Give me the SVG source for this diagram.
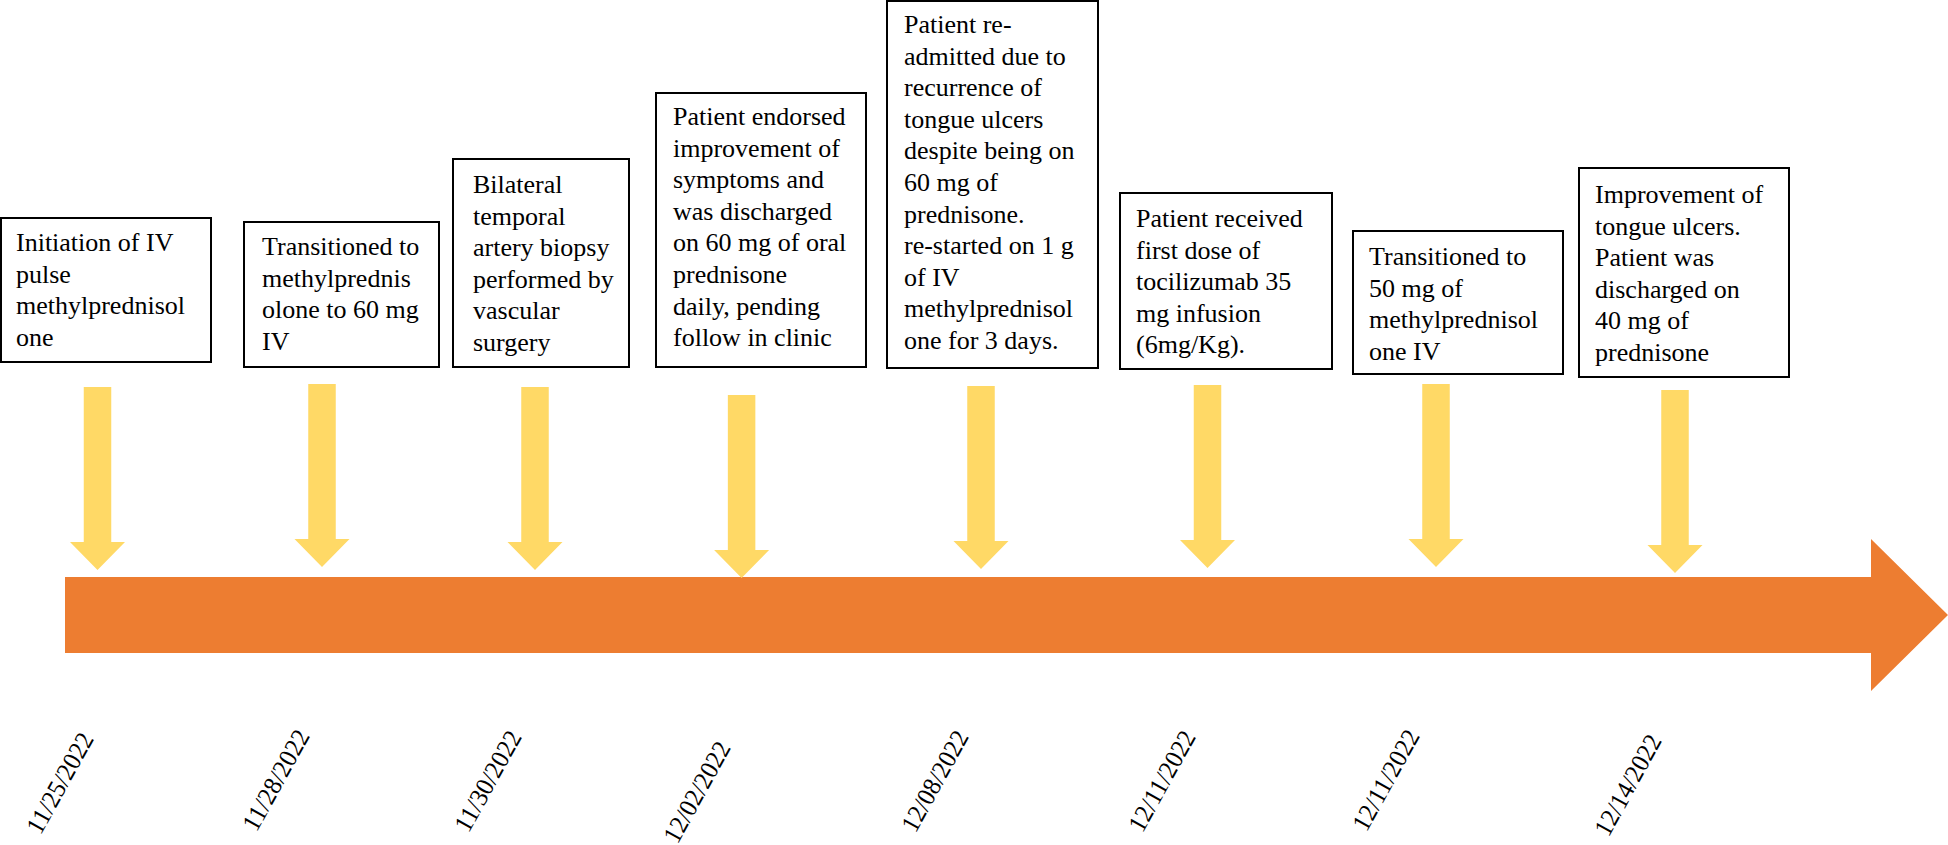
<svg xmlns="http://www.w3.org/2000/svg" xmlns:xlink="http://www.w3.org/1999/xlink" width="1948" height="845" viewBox="0 0 1948 845">
<style>
.box{fill:#fff;stroke:#000;stroke-width:2}
.t{font-family:"Liberation Serif","Times New Roman",serif;font-size:26px;fill:#000}
.d{font-family:"Liberation Serif","Times New Roman",serif;font-size:26px;fill:#000;text-anchor:middle}
.ya{fill:#FFD966}
</style>
<defs>
<path id="ya" d="M-13.75,0 H13.75 V155 H27.5 L0,183 L-27.5,155 H-13.75 Z"/>
</defs>
<rect width="1948" height="845" fill="#fff"/>
<g id="timeline">
<polygon points="65,577 1871,577 1871,539 1948,615 1871,691 1871,653 65,653" fill="#ED7D31"/>
</g>
<g id="connectors" class="ya">
<use xlink:href="#ya" x="97.5" y="387"/>
<use xlink:href="#ya" x="322" y="384"/>
<use xlink:href="#ya" x="535" y="387"/>
<use xlink:href="#ya" x="741.6" y="395"/>
<use xlink:href="#ya" x="981" y="386"/>
<use xlink:href="#ya" x="1207.5" y="385"/>
<use xlink:href="#ya" x="1436" y="384"/>
<use xlink:href="#ya" x="1675" y="390"/>
</g>
<g id="n1">
<rect class="box" x="1" y="218" width="210" height="144"/>
<text class="t" x="16" y="251"><tspan x="16">Initiation of IV</tspan><tspan x="16" dy="31.6">pulse</tspan><tspan x="16" dy="31.6">methylprednisol</tspan><tspan x="16" dy="31.6">one</tspan></text>
</g>
<g id="n2">
<rect class="box" x="244" y="222" width="195" height="145"/>
<text class="t" x="262" y="255"><tspan x="262">Transitioned to</tspan><tspan x="262" dy="31.6">methylprednis</tspan><tspan x="262" dy="31.6">olone to 60 mg</tspan><tspan x="262" dy="31.6">IV</tspan></text>
</g>
<g id="n3">
<rect class="box" x="453" y="159" width="176" height="208"/>
<text class="t" x="473" y="193"><tspan x="473">Bilateral</tspan><tspan x="473" dy="31.6">temporal</tspan><tspan x="473" dy="31.6">artery biopsy</tspan><tspan x="473" dy="31.6">performed by</tspan><tspan x="473" dy="31.6">vascular</tspan><tspan x="473" dy="31.6">surgery</tspan></text>
</g>
<g id="n4">
<rect class="box" x="656" y="93" width="210" height="274"/>
<text class="t" x="673" y="125"><tspan x="673">Patient endorsed</tspan><tspan x="673" dy="31.6">improvement of</tspan><tspan x="673" dy="31.6">symptoms and</tspan><tspan x="673" dy="31.6">was discharged</tspan><tspan x="673" dy="31.6">on 60 mg of oral</tspan><tspan x="673" dy="31.6">prednisone</tspan><tspan x="673" dy="31.6">daily, pending</tspan><tspan x="673" dy="31.6">follow in clinic</tspan></text>
</g>
<g id="n5">
<rect class="box" x="887" y="1" width="211" height="367"/>
<text class="t" x="904" y="33"><tspan x="904">Patient re-</tspan><tspan x="904" dy="31.6">admitted due to</tspan><tspan x="904" dy="31.6">recurrence of</tspan><tspan x="904" dy="31.6">tongue ulcers</tspan><tspan x="904" dy="31.6">despite being on</tspan><tspan x="904" dy="31.6">60 mg of</tspan><tspan x="904" dy="31.6">prednisone.</tspan><tspan x="904" dy="31.6">re-started on 1 g</tspan><tspan x="904" dy="31.6">of IV</tspan><tspan x="904" dy="31.6">methylprednisol</tspan><tspan x="904" dy="31.6">one for 3 days.</tspan></text>
</g>
<g id="n6">
<rect class="box" x="1120" y="193" width="212" height="176"/>
<text class="t" x="1136" y="227"><tspan x="1136">Patient received</tspan><tspan x="1136" dy="31.6">first dose of</tspan><tspan x="1136" dy="31.6">tocilizumab 35</tspan><tspan x="1136" dy="31.6">mg infusion</tspan><tspan x="1136" dy="31.6">(6mg/Kg).</tspan></text>
</g>
<g id="n7">
<rect class="box" x="1353" y="231" width="210" height="143"/>
<text class="t" x="1369" y="265"><tspan x="1369">Transitioned to</tspan><tspan x="1369" dy="31.6">50 mg of</tspan><tspan x="1369" dy="31.6">methylprednisol</tspan><tspan x="1369" dy="31.6">one IV</tspan></text>
</g>
<g id="n8">
<rect class="box" x="1579" y="168" width="210" height="209"/>
<text class="t" x="1595" y="203"><tspan x="1595">Improvement of</tspan><tspan x="1595" dy="31.6">tongue ulcers.</tspan><tspan x="1595" dy="31.6">Patient was</tspan><tspan x="1595" dy="31.6">discharged on</tspan><tspan x="1595" dy="31.6">40 mg of</tspan><tspan x="1595" dy="31.6">prednisone</tspan></text>
</g>
<g id="dates">
<text class="d" transform="translate(60,783) rotate(-61)" x="0" y="8.6" textLength="111" lengthAdjust="spacingAndGlyphs">11/25/2022</text>
<text class="d" transform="translate(276,780) rotate(-61)" x="0" y="8.6" textLength="111" lengthAdjust="spacingAndGlyphs">11/28/2022</text>
<text class="d" transform="translate(488,781) rotate(-61)" x="0" y="8.6" textLength="111" lengthAdjust="spacingAndGlyphs">11/30/2022</text>
<text class="d" transform="translate(697,792) rotate(-61)" x="0" y="8.6" textLength="111" lengthAdjust="spacingAndGlyphs">12/02/2022</text>
<text class="d" transform="translate(935,781) rotate(-61)" x="0" y="8.6" textLength="111" lengthAdjust="spacingAndGlyphs">12/08/2022</text>
<text class="d" transform="translate(1162,781) rotate(-61)" x="0" y="8.6" textLength="111" lengthAdjust="spacingAndGlyphs">12/11/2022</text>
<text class="d" transform="translate(1386,780) rotate(-61)" x="0" y="8.6" textLength="111" lengthAdjust="spacingAndGlyphs">12/11/2022</text>
<text class="d" transform="translate(1628,785) rotate(-61)" x="0" y="8.6" textLength="111" lengthAdjust="spacingAndGlyphs">12/14/2022</text>
</g>
</svg>
